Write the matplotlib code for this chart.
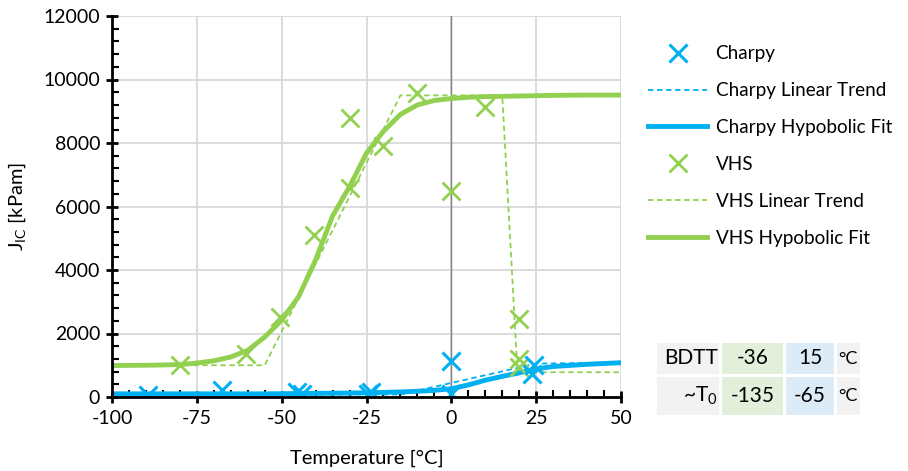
import numpy as np
import matplotlib.pyplot as plt
from matplotlib.patches import Rectangle
from matplotlib.ticker import MultipleLocator

plt.rcParams['font.family'] = ['Lato', 'DejaVu Sans']
plt.rcParams['mathtext.default'] = 'regular'
plt.rcParams['axes.unicode_minus'] = False

BLUE = '#00B0F0'
GREEN = '#92D050'

# measured points
charpy_t = [-89.5, -67.5, -45.5, -44, -24.7, -23.7, 0, 0, 24.3, 23.8]
charpy_j = [50, 210, 150, 110, 100, 160, 1120, 100, 1000, 740]
vhs_t = [-80, -60.5, -50.5, -40.5, -30, -30, -20, -10, 0, 10, 20, 20, 20]
vhs_j = [1000, 1370, 2530, 5100, 8790, 6580, 7890, 9580, 6500, 9140, 2470, 1210, 950]

# linear trend (piecewise) lines
vhs_lin_t = [-100, -55, -15, 15, 19.5, 50]
vhs_lin_j = [1000, 1000, 9500, 9500, 780, 780]
charpy_lin_t = [-100, -15, 25, 50]
charpy_lin_j = [80, 80, 1050, 1090]

# hyperbolic fit curves
fit_t = [-100, -90, -80, -75, -70, -65, -60, -55, -50, -45, -40, -35, -30, -25,
         -20, -15, -10, -5, 0, 5, 10, 15, 20, 25, 30, 40, 50]
vhs_fit = [990, 1000, 1020, 1070, 1140, 1260, 1470, 1890, 2420, 3160, 4320, 5700,
           6630, 7680, 8370, 8900, 9200, 9340, 9400, 9440, 9460, 9470, 9480, 9490,
           9500, 9510, 9510]
charpy_fit = [100, 100, 100, 100, 100, 100, 100, 100, 105, 110, 115, 120, 125, 135,
              145, 160, 180, 210, 260, 380, 530, 650, 760, 880, 960, 1030, 1080]

# table
tbl_rows = ['BDTT', '~T$_0$']
tbl_vhs = ['-36', '-135']
tbl_charpy = ['15', '-65']

fig = plt.figure(figsize=(9.08, 4.71), dpi=100)
ax = fig.add_axes([112/908, 1-397/471, 509/908, 381/471])

ax.plot(vhs_lin_t, vhs_lin_j, color=GREEN, lw=1.3, ls=(0, (3, 2)), label='VHS Linear Trend', zorder=3)
ax.plot(fit_t, vhs_fit, color=GREEN, lw=3.5, label='VHS Hypobolic Fit', zorder=3)
ax.plot(charpy_lin_t, charpy_lin_j, color=BLUE, lw=1.3, ls=(0, (3, 2)), label='Charpy Linear Trend', zorder=4)
ax.plot(fit_t, charpy_fit, color=BLUE, lw=3.5, label='Charpy Hypobolic Fit', zorder=4)
ax.plot(vhs_t, vhs_j, 'x', color=GREEN, ms=13, mew=2, label='VHS', zorder=5)
ax.plot(charpy_t, charpy_j, 'x', color=BLUE, ms=13, mew=2.2, label='Charpy', zorder=6)

ax.axvline(0, color='#808080', lw=1, zorder=2)

ax.set_xlim(-100, 50)
ax.set_ylim(0, 12000)
ax.xaxis.set_major_locator(MultipleLocator(25))
ax.xaxis.set_minor_locator(MultipleLocator(5))
ax.yaxis.set_major_locator(MultipleLocator(2000))
ax.yaxis.set_minor_locator(MultipleLocator(400))
ax.grid(True, which='major', color='#D9D9D9', lw=1.3, zorder=0)
ax.set_axisbelow(True)
for s in ['top', 'right']:
    ax.spines[s].set_visible(False)
for s in ['left', 'bottom']:
    ax.spines[s].set_linewidth(2)
    ax.spines[s].set_zorder(7)
ax.tick_params(which='major', direction='inout', length=9, width=2, labelsize=14, colors='black')
ax.tick_params(which='minor', direction='in', length=5, width=1.5)
ax.tick_params(axis='x', pad=5)
ax.tick_params(axis='y', pad=4)
ax.set_xlabel('Temperature [°C]', fontsize=14.5, labelpad=16)
ax.set_ylabel('J$_{IC}$ [kPam]', fontsize=14.5, labelpad=11)

h, l = ax.get_legend_handles_labels()
order = ['Charpy', 'Charpy Linear Trend', 'Charpy Hypobolic Fit', 'VHS', 'VHS Linear Trend', 'VHS Hypobolic Fit']
hd = dict(zip(l, h))
fig.legend([hd[k] for k in order], order, loc='upper left', bbox_to_anchor=(639/908, 1-36/471),
           frameon=False, fontsize=13.6, handlelength=3.1, handletextpad=0.45,
           labelspacing=1.05, borderpad=0)

# table drawn in pixel coordinates
tx = fig.add_axes([0, 0, 1, 1], zorder=10)
tx.set_xlim(0, 908)
tx.set_ylim(471, 0)
tx.axis('off')
col_x = [(657, 719, '#F2F2F2'), (722, 783, '#E2EFDA'), (786, 834, '#DDEBF7'), (837, 860, '#F2F2F2')]
row_y = [(343, 374), (377, 415)]
for i, (y0, y1) in enumerate(row_y):
    for x0, x1, c in col_x:
        tx.add_patch(Rectangle((x0, y0), x1 - x0, y1 - y0, color=c, lw=0))
    yc = (y0 + y1) / 2
    tx.text(718, yc, tbl_rows[i], ha='right', va='center', fontsize=15)
    tx.text((722 + 783) / 2, yc, tbl_vhs[i], ha='center', va='center', fontsize=15)
    tx.text((786 + 834) / 2, yc, tbl_charpy[i], ha='center', va='center', fontsize=15)
    tx.text(838, yc, '°C', ha='left', va='center', fontsize=13)

fig.savefig('out.png', dpi=100)
